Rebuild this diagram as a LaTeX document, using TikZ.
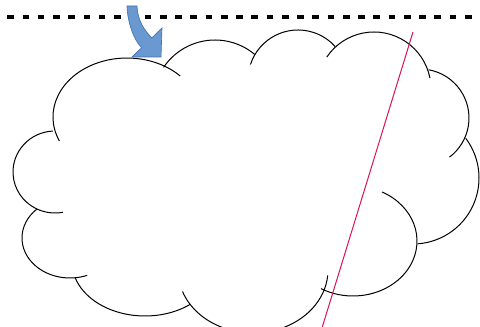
\documentclass[tikz,border=0pt]{standalone}
\tikzset{every picture/.style={line width=0.75pt}}
\tikzset{cloud edge/.style={color={rgb, 255:red, 0; green, 0; blue, 0 }, draw opacity=1}}
\begin{document}
\begin{tikzpicture}[x=0.75pt,y=0.75pt,yscale=-1,xscale=1]
\useasboundingbox (0,0) rectangle (480,327);
\clip (0,0) rectangle (480,327);

%Straight Lines [dashed border]
\draw  [line width=3pt, dash pattern=on 5pt off 6.44pt, dash phase=5.96pt] (0,17) -- (480,17) ;

%Shape: Cloud, one arc per lobe
\draw  [cloud edge] (127,117) ++(156:74 and 59) arc [start angle=156, end angle=316, x radius=74, y radius=59] ;
\draw  [cloud edge] (215,102) ++(214:62 and 62) arc [start angle=214, end angle=310, x radius=62, y radius=62] ;
\draw  [cloud edge] (298,80) ++(198:50 and 50) arc [start angle=198, end angle=318, x radius=50, y radius=50] ;
\draw  [cloud edge] (374,89) ++(214:57 and 57) arc [start angle=214, end angle=349, x radius=57, y radius=57] ;
\draw  [cloud edge] (420,118) ++(-80:49 and 49) arc [start angle=-80, end angle=53, x radius=49, y radius=49] ;
\draw  [cloud edge] (413,178) ++(-37:66 and 66) arc [start angle=-37, end angle=86, x radius=66, y radius=66] ;
\draw  [cloud edge] (353,241) ++(-63:64 and 55) arc [start angle=-63, end angle=120, x radius=64, y radius=55] ;
\draw  [cloud edge] (253,270) ++(160:75 and 63) arc [start angle=160, end angle=5, x radius=75, y radius=63] ;
\draw  [cloud edge] (145,262) ++(163:73 and 54) arc [start angle=163, end angle=52, x radius=73, y radius=54] ;
\draw  [cloud edge] (70,238) ++(226:48 and 40) arc [start angle=226, end angle=69, x radius=48, y radius=40] ;
\draw  [cloud edge] (55,172) ++(267:42 and 41) arc [start angle=267, end angle=79, x radius=42, y radius=41] ;

%Straight Lines [red cut]
\draw  [color={rgb, 255:red, 214; green, 18; blue, 92 }  ,draw opacity=1 ] (413,32) -- (322,328) ;

%Shape: Curved Arrow
\draw  [color={rgb, 255:red, 70; green, 114; blue, 176 }  ,draw opacity=1 ][fill={rgb, 255:red, 106; green, 152; blue, 208 }  ,fill opacity=1 ][line width=0.5pt] (127,6) -- (137,6) .. controls (137.5,20) and (144,30) .. (151.8,37.9) -- (162,28) -- (161,57) -- (132,57) -- (141.6,47.7) .. controls (133.6,39.7) and (127.5,22) .. (127,6) -- cycle ;

\end{tikzpicture}
\end{document}
